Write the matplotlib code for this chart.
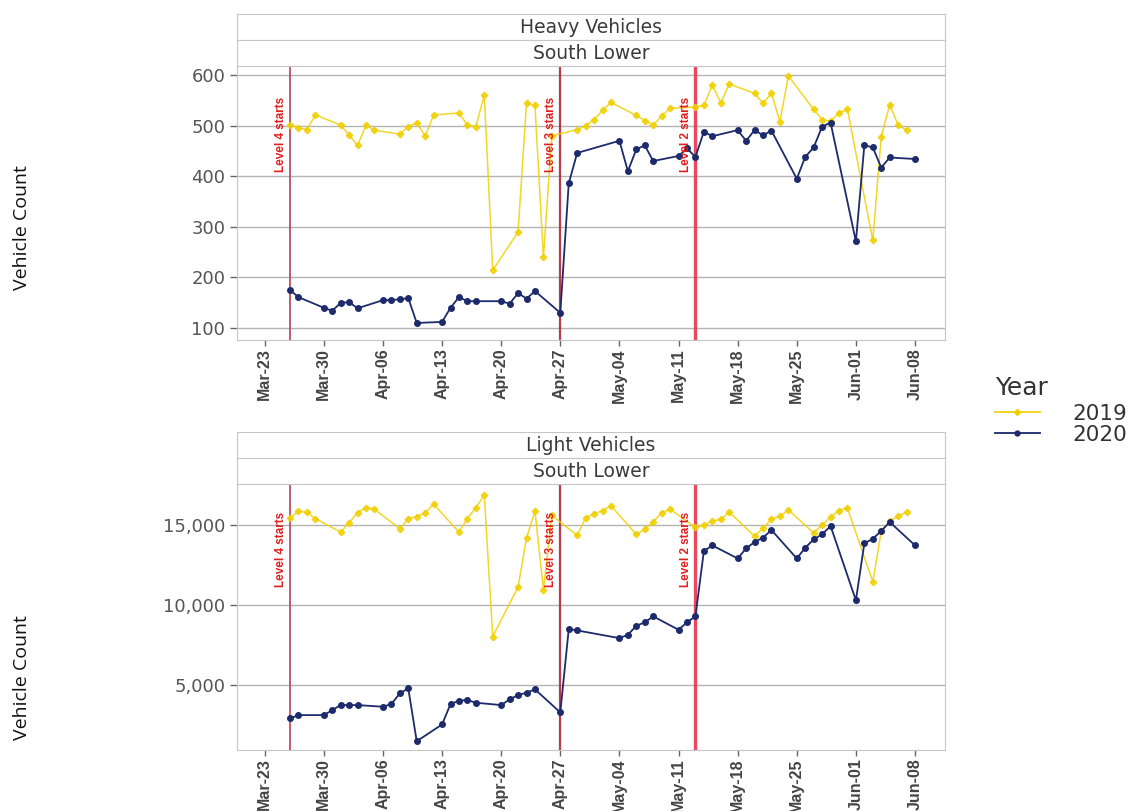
import matplotlib
matplotlib.use("Agg")
import matplotlib.pyplot as plt
import matplotlib.dates as mdates
from matplotlib.ticker import FuncFormatter
from matplotlib.lines import Line2D
import numpy as np

# weekday counts, South Lower site; 2019 plotted on the matching 2020 calendar day
dates_2020 = [
    "03-26", "03-27", "03-30", "03-31", "04-01", "04-02", "04-03",
    "04-06", "04-07", "04-08", "04-09", "04-10", "04-13", "04-14", "04-15", "04-16", "04-17",
    "04-20", "04-21", "04-22", "04-23", "04-24", "04-27", "04-28", "04-29",
    "05-04", "05-05", "05-06", "05-07", "05-08", "05-11", "05-12", "05-13", "05-14", "05-15",
    "05-18", "05-19", "05-20", "05-21", "05-22", "05-25", "05-26", "05-27", "05-28", "05-29",
    "06-01", "06-02", "06-03", "06-04", "06-05", "06-08",
]
dates_2019 = [
    "03-26", "03-27", "03-28", "03-29", "04-01", "04-02", "04-03", "04-04", "04-05",
    "04-08", "04-09", "04-10", "04-11", "04-12", "04-15", "04-16", "04-17", "04-18", "04-19",
    "04-22", "04-23", "04-24", "04-25", "04-26", "04-29", "04-30", "05-01", "05-02", "05-03",
    "05-06", "05-07", "05-08", "05-09", "05-10", "05-13", "05-14", "05-15", "05-16", "05-17",
    "05-20", "05-21", "05-22", "05-23", "05-24", "05-27", "05-28", "05-29", "05-30", "05-31",
    "06-03", "06-04", "06-05", "06-06", "06-07",
]

heavy_2020 = [
    175, 161, 140, 134, 150, 151, 139,
    155, 155, 157, 159, 110, 112, 140, 161, 153, 153,
    153, 148, 169, 158, 173, 130, 386, 446,
    470, 410, 453, 461, 430, 440, 455, 438, 488, 479,
    491, 470, 491, 481, 490, 395, 438, 457, 498, 506,
    271, 461, 457, 417, 437, 434,
]
heavy_2019 = [
    501, 496, 492, 521, 501, 481, 461, 501, 491,
    483, 498, 506, 479, 521, 525, 501, 498, 560, 214,
    290, 545, 540, 240, 480, 492, 500, 512, 530, 546,
    520, 510, 501, 519, 534, 537, 540, 580, 545, 582,
    564, 544, 564, 508, 598, 532, 512, 509, 525, 532,
    273, 478, 541, 501, 491,
]
light_2020 = [
    2908, 3117, 3117, 3431, 3745, 3745, 3745,
    3640, 3807, 4477, 4790, 1485, 2531, 3807, 4017, 4059, 3891,
    3745, 4100, 4372, 4519, 4728, 3285, 8494, 8410,
    7929, 8138, 8703, 8912, 9289, 8452, 8912, 9289, 13368, 13724,
    12908, 13536, 13933, 14205, 14686, 12908, 13577, 14100, 14414, 14937,
    10293, 13849, 14142, 14623, 15188, 13724,
]
light_2019 = [
    15450, 15850, 15800, 15400, 14550, 15150, 15770, 16090, 15980,
    14770, 15400, 15520, 15770, 16300, 14560, 15400, 16090, 16860, 8030,
    11130, 14200, 15880, 10960, 15600, 14350, 15450, 15700, 15900, 16200,
    14410, 14730, 15190, 15770, 15980, 14850, 15000, 15250, 15350, 15800,
    14300, 14800, 15350, 15550, 15950, 14500, 15000, 15500, 15900, 16050,
    11450, 14600, 15250, 15550, 15800,
]

level_dates = ["03-26", "04-27", "05-13"]
level_labels = ["Level 4 starts", "Level 3 starts", "Level 2 starts"]
level_colors = ["#c0485a", "#b02838", "#e8344c"]
level_widths = [1.4, 1.6, 2.4]

C19 = "#f0d000"
C20 = "#1d2a6b"
GRID = "#b4b4b4"
EDGE = "#c6c6c6"
TXT = "#444444"


def to_num(md):
    return mdates.date2num(np.array(["2020-" + s for s in md], dtype="datetime64[D]"))


x20 = to_num(dates_2020)
x19 = to_num(dates_2019)
xlv = to_num(level_dates)
x0 = mdates.date2num(np.datetime64("2020-03-23"))
xlim = (x0 - 3.28, x0 + 80.55)

fig = plt.figure(figsize=(11.48, 8.11), dpi=100)
W, H = 1148, 811


def box(x1, y1, x2, y2):
    return [x1 / W, 1 - y2 / H, (x2 - x1) / W, (y2 - y1) / H]


def strip(y1, y2, text):
    s = fig.add_axes(box(237, y1, 945, y2))
    s.set_xticks([]); s.set_yticks([])
    for sp in s.spines.values():
        sp.set_color(EDGE)
    s.text(0.5, 0.48, text, ha="center", va="center", fontsize=13.5,
           color="#3a3a3a", family="DejaVu Sans", transform=s.transAxes)


def panel(y1, y2, v19, v20, ylim, yticks, fmt, label_top):
    ax = fig.add_axes(box(237, y1, 945, y2))
    ax.set_xlim(*xlim)
    ax.set_ylim(*ylim)
    ax.set_yticks(yticks)
    ax.yaxis.set_major_formatter(FuncFormatter(fmt))
    ax.grid(axis="y", color=GRID, lw=1.0)
    ax.set_axisbelow(True)
    for sp in ax.spines.values():
        sp.set_color(EDGE)
    ax.xaxis.set_major_locator(mdates.WeekdayLocator(byweekday=mdates.MO))
    ax.xaxis.set_major_formatter(mdates.DateFormatter("%b-%d"))
    ax.tick_params(axis="y", colors="#666666", labelsize=13, length=5, width=1)
    ax.tick_params(axis="x", colors="#666666", labelcolor=TXT, length=4, width=1,
                   labelrotation=90, labelsize=11.5, pad=2)
    for t in ax.get_yticklabels():
        t.set_color("#555555")
    for t in ax.get_xticklabels():
        t.set_family("Liberation Sans")
        t.set_fontweight("bold")

    for xv, lab, c, lw in zip(xlv, level_labels, level_colors, level_widths):
        ax.axvline(xv, color=c, lw=lw, alpha=0.9, zorder=1)
        ax.text(xv - 0.4, label_top, lab, rotation=90, ha="right", va="top",
                color="#e02020", fontsize=8.5, fontweight="bold",
                family="Liberation Sans", zorder=4)

    ax.plot(x19, v19, "-", color=C19, lw=1.1, marker="D", ms=3.3,
            mec=C19, mfc=C19, alpha=0.85, zorder=2)
    ax.plot(x20, v20, "-", color=C20, lw=1.3, marker="o", ms=4,
            mec=C20, mfc=C20, zorder=3)
    return ax


strip(14, 40, "Heavy Vehicles")
strip(40, 66, "South Lower")
panel(66, 340, heavy_2019, heavy_2020, (76.3, 617.8), range(100, 601, 100),
      lambda v, p: f"{v:.0f}", 556)

strip(432, 458, "Light Vehicles")
strip(458, 484, "South Lower")
panel(484, 750, light_2019, light_2020, (937, 17562), [5000, 10000, 15000],
      lambda v, p: f"{v:,.0f}", 15850)

for yc in (228, 678):
    fig.text(22 / W, 1 - yc / H, "Vehicle Count", rotation=90, ha="center",
             va="center", fontsize=14, family="Open Sans", color="#111111")

handles = [
    Line2D([], [], color=C19, lw=1.2, marker="D", ms=3, mfc=C19, mec=C19),
    Line2D([], [], color=C20, lw=1.3, marker="o", ms=3.5, mfc=C20, mec=C20),
]
leg = fig.legend(handles, ["2019", "2020"], title="Year", loc="upper left",
                 bbox_to_anchor=(986 / W, 1 - 367 / H), frameon=False,
                 fontsize=15.5, title_fontsize=18, handlelength=2.1,
                 labelspacing=0.05, handletextpad=1.5, borderaxespad=0)
leg._legend_box.align = "left"
leg._legend_box.sep = 3
for t in leg.get_texts():
    t.set_color("#333333")
leg.get_title().set_color("#333333")

fig.savefig("out.png", dpi=100)
